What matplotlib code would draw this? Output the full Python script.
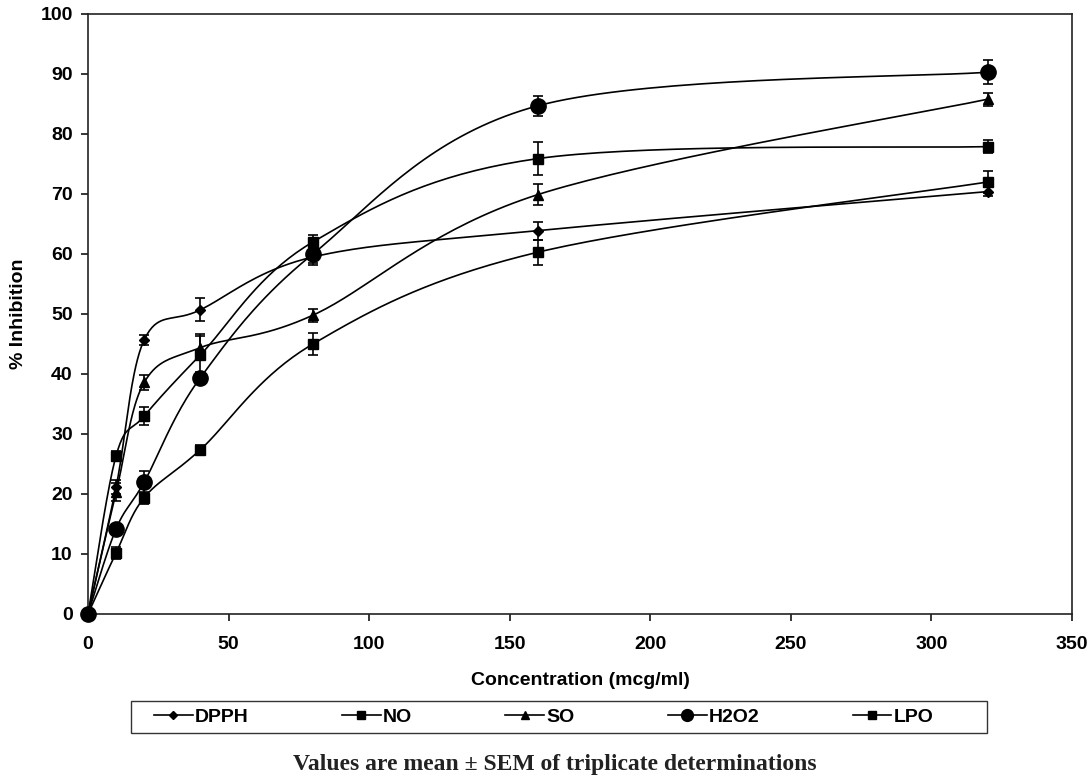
import numpy as np
import matplotlib
matplotlib.use("Agg")
import matplotlib.pyplot as plt
from matplotlib.patches import Rectangle

conc = [0, 10, 20, 40, 80, 160, 320]
series_names = ["DPPH", "NO", "SO", "H2O2", "LPO"]
dpph = [0, 21.2, 45.7, 50.7, 59.5, 63.9, 70.4]
no = [0, 26.4, 33.0, 43.2, 62.0, 75.9, 77.9]
so = [0, 20.3, 38.6, 44.4, 49.8, 69.9, 85.8]
h2o2 = [0, 14.2, 22.0, 39.4, 60.0, 84.7, 90.3]
lpo = [0, 10.2, 19.4, 27.4, 45.0, 60.3, 72.0]
dpph_err = [0, 1.2, 0.8, 1.9, 1.4, 1.5, 0.7]
no_err = [0, 0.8, 1.5, 3.4, 1.1, 2.7, 1.1]
so_err = [0, 1.5, 1.2, 2.0, 1.1, 1.7, 1.1]
h2o2_err = [0, 0.8, 1.8, 1.0, 1.5, 1.7, 2.0]
lpo_err = [0, 1.0, 1.0, 0.8, 1.8, 2.1, 1.9]

x_ticks = [0, 50, 100, 150, 200, 250, 300, 350]
y_ticks = [0, 10, 20, 30, 40, 50, 60, 70, 80, 90, 100]

values = [dpph, no, so, h2o2, lpo]
errors = [dpph_err, no_err, so_err, h2o2_err, lpo_err]
markers = ["D", "s", "^", "o", "s"]
msizes = [5.5, 6.5, 7, 11, 6.5]
leg_msizes = [4.5, 5.5, 6, 8.5, 5.5]


def smooth(xs, ys, n=40):
    P = np.column_stack([xs, ys]).astype(float)
    out = [P[0]]
    m = len(P)
    for i in range(m - 1):
        p0 = P[i - 1] if i > 0 else P[i]
        p1 = P[i]
        p2 = P[i + 1]
        p3 = P[i + 2] if i + 2 < m else P[i + 1]
        c1 = p1 + (p2 - p0) / 6.0
        c2 = p2 - (p3 - p1) / 6.0
        t = np.linspace(0, 1, n)[1:, None]
        b = ((1 - t) ** 3) * p1 + 3 * ((1 - t) ** 2) * t * c1 + 3 * (1 - t) * t ** 2 * c2 + t ** 3 * p2
        out.extend(b)
    out = np.array(out)
    return out[:, 0], out[:, 1]


plt.rcParams['font.family'] = ['Liberation Sans', 'DejaVu Sans']
fig = plt.figure(figsize=(10.92, 7.77), dpi=100)
ax = fig.add_axes([88 / 1092, 1 - 614 / 777, 984 / 1092, 600 / 777])

handles = []
for name, ys, es, mk, ms, lms in zip(series_names, values, errors, markers, msizes, leg_msizes):
    sx, sy = smooth(conc, ys)
    ax.plot(sx, sy, color='black', lw=1.2, zorder=2)
    ax.errorbar(conc, ys, yerr=es, fmt='none', ecolor='black', elinewidth=1.2,
                capsize=3.6, capthick=1.2, zorder=3, clip_on=False)
    ax.plot(conc, ys, linestyle='none', marker=mk, markersize=ms, color='black',
            zorder=4, clip_on=False)
    h, = ax.plot([], [], color='black', lw=1.2, marker=mk, markersize=lms, label=name)
    handles.append(h)

ax.set_xlim(0, 350)
ax.set_ylim(0, 100)
ax.set_xticks(x_ticks)
ax.set_yticks(y_ticks)
ax.tick_params(direction='out', length=5, width=1.1, labelsize=14)
ax.tick_params(axis='x', pad=11)
ax.tick_params(axis='y', pad=6)
for lab in ax.get_xticklabels() + ax.get_yticklabels():
    lab.set_fontweight('bold')
for sp in ax.spines.values():
    sp.set_linewidth(1.2)
    sp.set_color('#222222')

ax.set_xlabel("Concentration (mcg/ml)", fontsize=14, fontweight='bold')
ax.set_ylabel("% Inhibition", fontsize=14, fontweight='bold')
ax.xaxis.set_label_coords(0.5, -(672 - 614) / 600, transform=ax.transAxes)
ax.yaxis.set_label_coords(-(88 - 27) / 984, 0.5, transform=ax.transAxes)

# legend box
fig.patches.append(Rectangle((131 / 1092, 1 - 733 / 777), 856 / 1092, 32 / 777,
                             transform=fig.transFigure, fill=False,
                             edgecolor='#333333', linewidth=1.0))
leg = fig.legend(handles=handles, loc='center left',
                 bbox_to_anchor=(154 / 1092, 1 - 717 / 777),
                 ncol=5, frameon=False, fontsize=14, handlelength=2.0,
                 handletextpad=0.1, columnspacing=4.8, borderaxespad=0, borderpad=0)
for t in leg.get_texts():
    t.set_fontweight('bold')

fig.text(555 / 1092, 1 - 770 / 777, "Values are mean \u00b1 SEM of triplicate determinations",
         ha='center', va='baseline', fontsize=17, fontweight='bold',
         family=['Liberation Serif', 'DejaVu Serif'], color='#222222')

fig.savefig("out.png", dpi=100)
